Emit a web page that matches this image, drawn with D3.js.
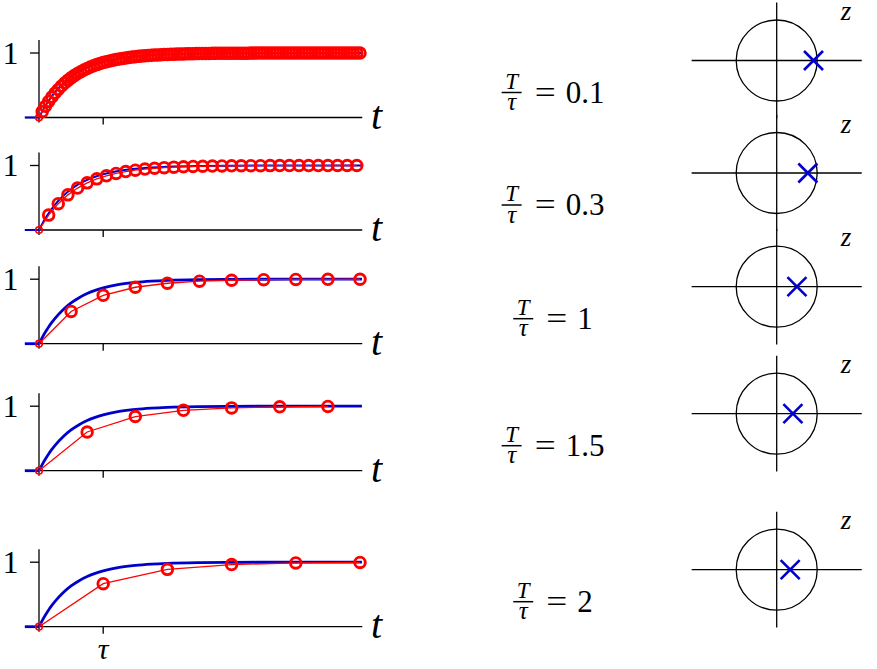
<!DOCTYPE html>
<html>
<head>
<meta charset="utf-8">
<script src="https://cdn.jsdelivr.net/npm/d3@7"></script>
<style>
html,body{margin:0;padding:0;background:#fff;}
svg{display:block;}
</style>
</head>
<body>
<svg id="chart" width="877" height="669"></svg>
<script>
// ---------------- data ----------------
const ratioLabels = ["0.1", "0.3", "1", "1.5", "2"];      // T/tau
const sampleSteps = [0.1, 0.3, 1, 1.5, 2];                // sampling interval in units of tau
const poles = [0.909, 0.769, 0.5, 0.4, 0.333];            // discrete pole location (z-plane)

// continuous step response (blue)
const contT = [0, 0.1, 0.2, 0.3, 0.4, 0.5, 0.75, 1, 1.25, 1.5, 1.75, 2, 2.5, 3, 3.5, 4, 5, 6, 7, 8, 10.06];
const contY = [0, 0.0952, 0.1813, 0.2592, 0.3297, 0.3935, 0.5276, 0.6321, 0.7135, 0.7769, 0.8262, 0.8647,
               0.9179, 0.9502, 0.9698, 0.9817, 0.9933, 0.9975, 0.9991, 0.9997, 1.0];
const preT = [-0.44, 0];
const preY = [0, 0];

// sampled responses (red), one value per sample n
const samples01 = [0, 0.0909, 0.1736, 0.2487, 0.3170, 0.3791, 0.4355, 0.4868, 0.5335, 0.5759, 0.6145,
  0.6495, 0.6814, 0.7103, 0.7367, 0.7606, 0.7824, 0.8022, 0.8201, 0.8365, 0.8514,
  0.8649, 0.8772, 0.8883, 0.8985, 0.9077, 0.9161, 0.9237, 0.9307, 0.9370, 0.9427,
  0.9479, 0.9526, 0.9569, 0.9609, 0.9644, 0.9677, 0.9706, 0.9733, 0.9757, 0.9779,
  0.9799, 0.9817, 0.9834, 0.9849, 0.9863, 0.9875, 0.9887, 0.9897, 0.9906, 0.9915,
  0.9923, 0.9930, 0.9936, 0.9942, 0.9947, 0.9952, 0.9956, 0.9960, 0.9964, 0.9967,
  0.9970, 0.9973, 0.9975, 0.9978, 0.9980, 0.9981, 0.9983, 0.9985, 0.9986, 0.9987,
  0.9988, 0.9990, 0.9990, 0.9991, 0.9992, 0.9993, 0.9993, 0.9994, 0.9995, 0.9995,
  0.9996, 0.9996, 0.9996, 0.9997, 0.9997, 0.9997, 0.9998, 0.9998, 0.9998, 0.9998,
  0.9998, 0.9998, 0.9999, 0.9999, 0.9999, 0.9999, 0.9999, 0.9999, 0.9999, 0.9999];
const samples03 = [0, 0.2308, 0.4083, 0.5448, 0.6499, 0.7307, 0.7928, 0.8406, 0.8774, 0.9057, 0.9275,
  0.9442, 0.9571, 0.9670, 0.9746, 0.9805, 0.9850, 0.9884, 0.9911, 0.9932, 0.9947,
  0.9960, 0.9969, 0.9976, 0.9982, 0.9986, 0.9989, 0.9992, 0.9994, 0.9995, 0.9996,
  0.9997, 0.9998, 0.9998];
const samples1 = [0, 0.5, 0.75, 0.875, 0.9375, 0.969, 0.984, 0.992, 0.996, 0.998, 0.999];
const samples15 = [0, 0.6, 0.84, 0.936, 0.974, 0.990, 0.996];
const samples2 = [0, 0.667, 0.889, 0.963, 0.988, 0.996];
const sampleSets = [samples01, samples03, samples1, samples15, samples2];

const xTickValues = [2];
const xTickLabels = ["τ"];
const yTickValues = [1];
const yTickLabels = ["1"];

// ---------------- layout ----------------
const axisYs = [117.5, 230, 343.7, 470.7, 626.7];
const blueWidths = [2.0, 2.0, 2.8, 2.8, 2.8];
const BLUE = "#0000cc", RED = "#ff0000";
const FONT = '"Liberation Serif"';
const svg = d3.select("#chart");
svg.append("rect").attr("width", 877).attr("height", 669).attr("fill", "#fff");

function txt(sel, size, italic) {
  return sel.append("text").style("font-family", FONT).style("font-size", size + "px")
    .style("font-style", italic ? "italic" : "normal");
}

const x = d3.scaleLinear().domain([0, 10]).range([39, 360]);

axisYs.forEach((ay, i) => {
  const y = d3.scaleLinear().domain([0, 1]).range([ay, ay - 64.5]);
  const g = svg.append("g");

  // axes
  g.append("line").attr("x1", x(-0.44)).attr("x2", x(10.07)).attr("y1", y(0)).attr("y2", y(0))
    .attr("stroke", "#000").attr("stroke-width", 1.3);
  g.append("line").attr("x1", x(0)).attr("x2", x(0)).attr("y1", y(1) - 13).attr("y2", y(0) + 5)
    .attr("stroke", "#000").attr("stroke-width", 1.3);
  yTickValues.forEach((v, k) => {
    g.append("line").attr("x1", x(0) - 9).attr("x2", x(0)).attr("y1", y(v)).attr("y2", y(v))
      .attr("stroke", "#000").attr("stroke-width", 1.3);
    txt(g, 32, false).attr("x", 10.5).attr("y", y(v) + 10.8).attr("text-anchor", "middle")
      .text(yTickLabels[k]);
  });
  xTickValues.forEach((v, k) => {
    g.append("line").attr("x1", x(v)).attr("x2", x(v)).attr("y1", y(0)).attr("y2", y(0) + 7)
      .attr("stroke", "#000").attr("stroke-width", 1.3);
    if (i === axisYs.length - 1) {
      txt(g, 30, true).attr("x", x(v)).attr("y", y(0) + 32).attr("text-anchor", "middle")
        .text(xTickLabels[k]);
    }
  });
  txt(g, 40, true).attr("x", 371).attr("y", y(0) + 11).text("t");

  // blue continuous response
  const lineFn = d3.line().x(d => x(d[0])).y(d => y(d[1]));
  g.append("path").datum(d3.zip(preT, preY)).attr("d", lineFn)
    .attr("fill", "none").attr("stroke", BLUE).attr("stroke-width", blueWidths[i]);
  g.append("path").datum(d3.zip(contT, contY)).attr("d", lineFn.curve(d3.curveMonotoneX))
    .attr("fill", "none").attr("stroke", BLUE).attr("stroke-width", blueWidths[i]);

  // red sampled response
  const pts = sampleSets[i].map((v, n) => [n * sampleSteps[i], v]);
  g.append("path").datum(pts).attr("d", d3.line().x(d => x(d[0])).y(d => y(d[1])))
    .attr("fill", "none").attr("stroke", RED).attr("stroke-width", 1.3);
  g.selectAll("circle.s").data(pts).join("circle")
    .attr("cx", d => x(d[0])).attr("cy", d => y(d[1]))
    .attr("r", (d, n) => n === 0 ? 3.3 : 5.3)
    .attr("fill", "none").attr("stroke", RED).attr("stroke-width", (d, n) => n === 0 ? 1.6 : 2.9);

  // middle label  T/tau = value
  const barY = ay - 25;
  const lg = svg.append("g");
  txt(lg, 23, true).attr("x", 10).attr("y", barY - 4).attr("text-anchor", "middle").text("T");
  lg.append("line").attr("x1", 0).attr("x2", 20).attr("y1", barY).attr("y2", barY)
    .attr("stroke", "#000").attr("stroke-width", 1.5);
  txt(lg, 25, true).attr("x", 10).attr("y", barY + 17.5).attr("text-anchor", "middle").text("τ");
  const eq = txt(lg, 31, false).attr("x", 33).attr("y", barY + 10);
  eq.append("tspan").text("=").attr("textLength", 21).attr("lengthAdjust", "spacingAndGlyphs");
  eq.append("tspan").attr("dx", 10).text(ratioLabels[i]);
  const bb = lg.node().getBBox();
  lg.attr("transform", `translate(${553 - (bb.x + bb.width / 2)},0)`);

  // z-plane
  const cy = ay - 57, cx = 776.7, R = 40.5;
  const zx = d3.scaleLinear().domain([-1, 1]).range([cx - R, cx + R]);
  const zy = d3.scaleLinear().domain([-1, 1]).range([cy + R, cy - R]);
  const zg = svg.append("g");
  zg.append("line").attr("x1", zx(-2.1)).attr("x2", zx(2.1)).attr("y1", zy(0)).attr("y2", zy(0))
    .attr("stroke", "#000").attr("stroke-width", 1.3);
  zg.append("line").attr("x1", zx(0)).attr("x2", zx(0)).attr("y1", zy(1.43)).attr("y2", zy(-1.43))
    .attr("stroke", "#000").attr("stroke-width", 1.3);
  zg.append("circle").attr("cx", zx(0)).attr("cy", zy(0)).attr("r", zx(1) - zx(0))
    .attr("fill", "none").attr("stroke", "#000").attr("stroke-width", 1.3);
  const px = zx(poles[i]), py = zy(0), h = 9.5;
  zg.append("path").attr("d", `M${px - h},${py - h}L${px + h},${py + h}M${px - h},${py + h}L${px + h},${py - h}`)
    .attr("stroke", BLUE).attr("stroke-width", 2.6).attr("fill", "none");
  txt(zg, 27, true).attr("x", 846).attr("y", cy - 40.5).attr("text-anchor", "middle").text("z");
});
</script>
</body>
</html>
